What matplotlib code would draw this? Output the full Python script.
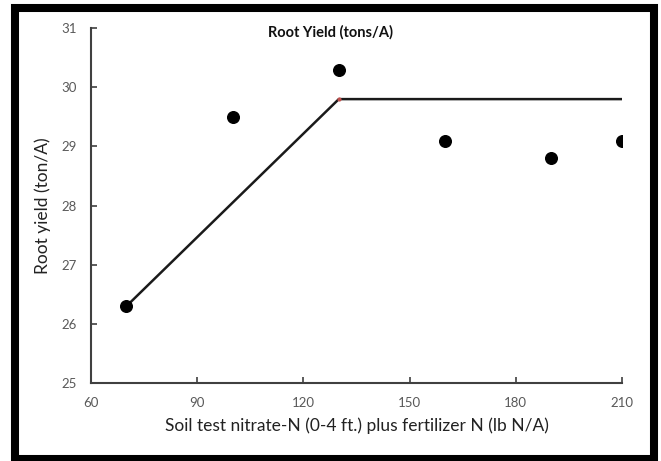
import matplotlib
matplotlib.use("Agg")
import matplotlib.pyplot as plt
from matplotlib.patches import Rectangle

# Data
n_rate = [70, 100, 130, 160, 190, 210]
root_yield = [26.3, 29.5, 30.3, 29.1, 28.8, 29.1]
fit_x = [70, 130, 210]
fit_y = [26.3, 29.8, 29.8]
x_ticks = [60, 90, 120, 150, 180, 210]
y_ticks = [25, 26, 27, 28, 29, 30, 31]

plt.rcParams['font.family'] = ['Lato', 'DejaVu Sans']

fig = plt.figure(figsize=(6.61, 4.61), dpi=100)
ax = fig.add_axes([0.1377, 0.169, 0.8033, 0.770])

ax.plot(fit_x, fit_y, color='#1a1a1a', lw=1.8, zorder=2)
ax.plot([fit_x[1]], [fit_y[1]], 'o', color='#c0504d', ms=2, zorder=3)
ax.scatter(n_rate, root_yield, s=70, color='black', zorder=4)

ax.set_xlim(60, 210)
ax.set_ylim(25, 31)
ax.set_xticks(x_ticks)
ax.set_yticks(y_ticks)
ax.tick_params(direction='in', length=4, width=1.2, color='#404040',
               labelsize=9.5, labelcolor='#595959')
ax.tick_params(axis='x', pad=10)
ax.tick_params(axis='y', pad=10)
for s in ['top', 'right']:
    ax.spines[s].set_visible(False)
for s in ['left', 'bottom']:
    ax.spines[s].set_color('#404040')
    ax.spines[s].set_linewidth(1.5)

ax.set_xlabel('Soil test nitrate-N (0-4 ft.) plus fertilizer N (lb N/A)',
              fontsize=12.5, color='#222222', labelpad=6)
ax.set_ylabel('Root yield (ton/A)', fontsize=12.5, color='#222222', labelpad=8)
fig.text(0.50, 0.930, 'Root Yield (tons/A)', fontsize=10.5, fontweight='bold',
         ha='center', va='center', color='#111111')

fig.patches.append(Rectangle((0.0234, 0.0043), 0.9653, 0.9783,
                             transform=fig.transFigure, fill=False,
                             edgecolor='black', linewidth=5.8, zorder=10))

fig.savefig('out.png', dpi=100)
